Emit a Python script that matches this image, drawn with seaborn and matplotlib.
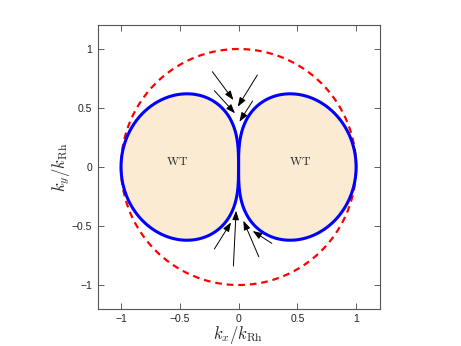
import numpy as np
import pandas as pd
import matplotlib
matplotlib.use("Agg")
import matplotlib.pyplot as plt
import seaborn as sns

# ---- data ----
k_rh = 1.0                      # Rhines wavenumber radius (dashed circle)
lobe_exponent = 0.5             # boundary: k = k_rh * |cos(theta)|**0.5
ticks = [-1, -0.5, 0, 0.5, 1]
tick_labels = ["\u22121", "\u22120.5", "0", "0.5", "1"]
arrow_start_x = [-0.223, 0.160, -0.206, 0.120, -0.206, -0.044, 0.172, 0.283]
arrow_start_y = [0.808, 0.780, 0.647, 0.560, -0.695, -0.839, -0.760, -0.647]
arrow_end_x = [-0.044, -0.007, -0.030, 0.007, -0.064, -0.021, 0.041, 0.120]
arrow_end_y = [0.568, 0.511, 0.455, 0.384, -0.469, -0.370, -0.455, -0.542]
label_x = [-0.52, 0.52]
label_y = [0.04, 0.04]
label_text = ["WT", "WT"]

sns.set_style("ticks")
plt.rcParams["mathtext.fontset"] = "cm"
plt.rcParams["font.family"] = ["Liberation Sans", "DejaVu Sans"]

fig = plt.figure(figsize=(4.61, 3.46), dpi=100)
ax = fig.add_axes([0.2115, 0.108, 0.612, 0.8186])

# dashed circle
th = np.linspace(0, 2 * np.pi, 400)
circ = pd.DataFrame({"x": k_rh * np.cos(th), "y": k_rh * np.sin(th)})

# lobes
t = np.linspace(-np.pi / 2, np.pi / 2, 801)
r = k_rh * np.abs(np.cos(t)) ** lobe_exponent
right = pd.DataFrame({"x": r * np.cos(t), "y": r * np.sin(t)})
left = pd.DataFrame({"x": -right["x"], "y": right["y"]})

for lobe in (right, left):
    ax.fill(lobe["x"], lobe["y"], color="#FCEBD3", zorder=1, lw=0)

sns.lineplot(data=circ, x="x", y="y", sort=False, estimator=None, ax=ax,
             color="red", lw=1.6, linestyle=(0, (3.0, 2.2)), zorder=2)
for lobe in (right, left):
    sns.lineplot(data=lobe, x="x", y="y", sort=False, estimator=None, ax=ax,
                 color="#0000FF", lw=2.2, zorder=3)

for sx, sy, ex, ey in zip(arrow_start_x, arrow_start_y, arrow_end_x, arrow_end_y):
    ax.annotate("", xy=(ex, ey), xytext=(sx, sy),
                arrowprops=dict(arrowstyle="-|>,head_length=0.55,head_width=0.2",
                                color="black", lw=0.7, shrinkA=0, shrinkB=0),
                zorder=4)

for lx, ly, s in zip(label_x, label_y, label_text):
    ax.text(lx, ly, r"$\mathrm{%s}$" % s, ha="center", va="center",
            fontsize=8.5, zorder=5)

ax.set_xlim(-1.2, 1.2)
ax.set_ylim(-1.2, 1.2)
ax.set_xticks(ticks)
ax.set_xticklabels(tick_labels)
ax.set_yticks(ticks)
ax.set_yticklabels(tick_labels)
ax.tick_params(direction="in", length=4, width=0.6, colors="#444444",
               labelsize=7.5, labelcolor="#222222", top=True, right=True, pad=4)
for sp in ax.spines.values():
    sp.set_visible(True)
    sp.set_color("#555555")
    sp.set_linewidth(0.8)

ax.set_xlabel(r"$k_x/k_{\mathrm{Rh}}$", fontsize=12, labelpad=0)
ax.set_ylabel(r"$k_y/k_{\mathrm{Rh}}$", fontsize=12, labelpad=0)

fig.savefig("out.png", dpi=100)
